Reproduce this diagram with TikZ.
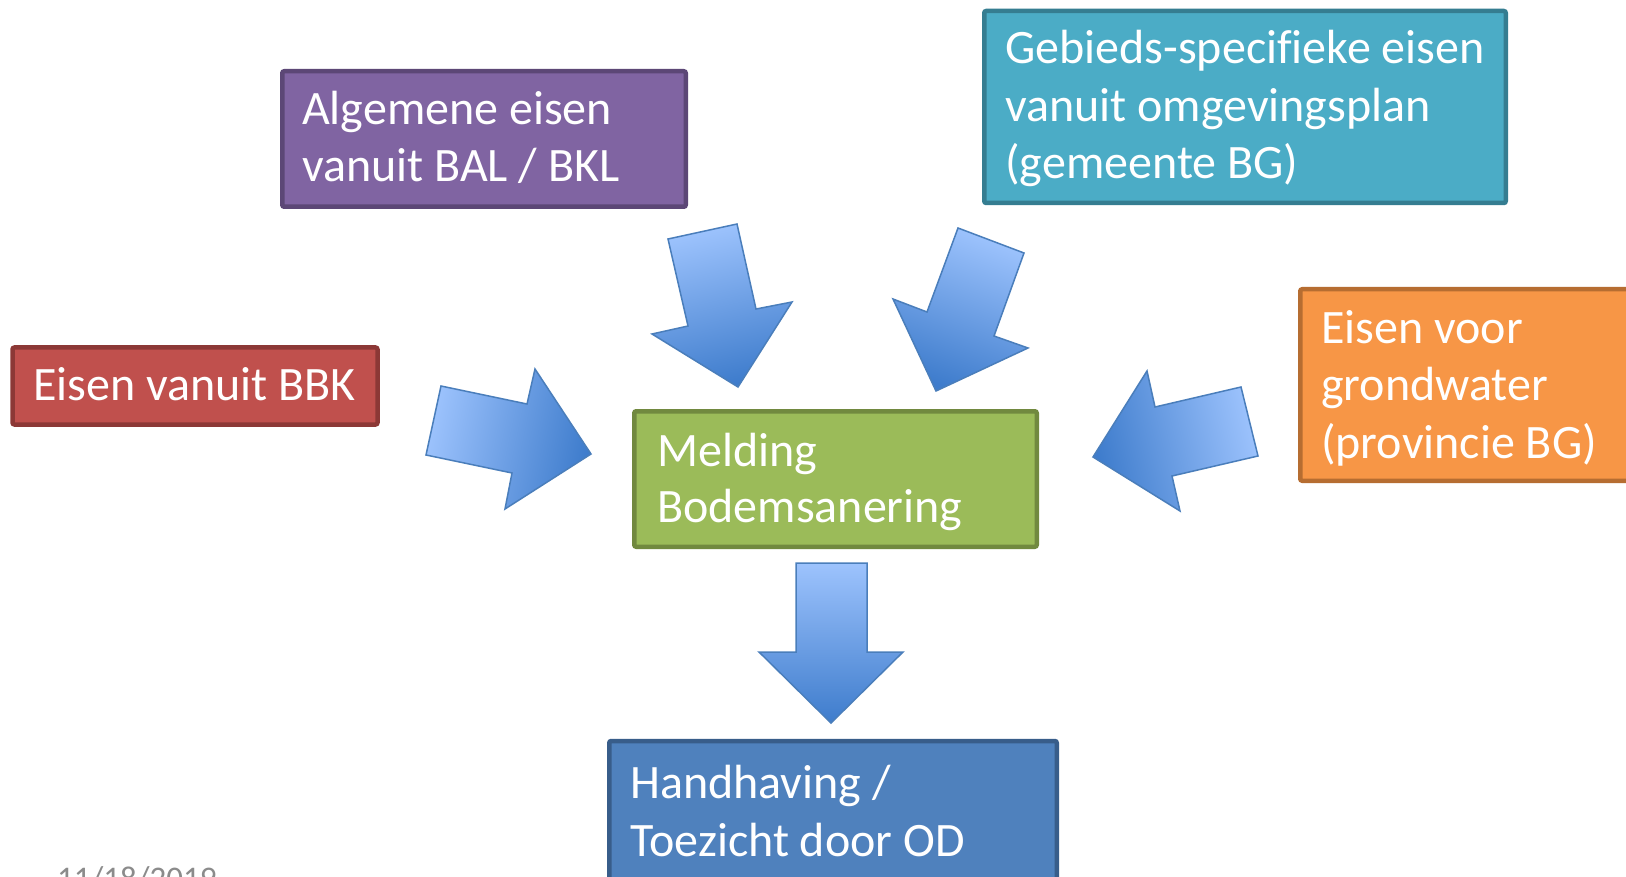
\documentclass[tikz,border=0pt]{standalone}
\usepackage{fontspec}
\setmainfont[Ligatures=NoCommon]{Carlito}
\definecolor{purpfill}{HTML}{8064A2}\definecolor{purpline}{HTML}{5C4776}
\definecolor{tealfill}{HTML}{4BACC6}\definecolor{tealline}{HTML}{357D91}
\definecolor{redfill}{HTML}{C0504D}\definecolor{redline}{HTML}{8C3836}
\definecolor{orgfill}{HTML}{F79646}\definecolor{orgline}{HTML}{B66D31}
\definecolor{grnfill}{HTML}{9BBB59}\definecolor{grnline}{HTML}{71893F}
\definecolor{blufill}{HTML}{4F81BD}\definecolor{bluline}{HTML}{385D8A}
\definecolor{arrlight}{HTML}{9DC3FD}\definecolor{arrdark}{HTML}{3E7CCC}
\definecolor{arrline}{HTML}{4A7EBB}\definecolor{dategrey}{HTML}{8B8B8B}
\begin{document}
\begin{tikzpicture}[x=1pt,y=-1pt,
  box/.style={rectangle, line width=4.5pt, rounded corners=2pt, inner sep=0pt, outer sep=0pt},
  lbl/.style={anchor=base west, inner sep=0pt, text=white, font=\fontsize{48}{57}\selectfont},
  blockarrow/.style={draw=arrline, line width=1.5pt, line join=miter, top color=arrlight, bottom color=arrdark}]
\useasboundingbox (0,0) rectangle (1626,877);
\clip (0,0) rectangle (1626,877);
\fill[white] (0,0) rectangle (1626,877);

% boxes
\node[box, fill=purpfill, draw=purpline, minimum width=403.5pt, minimum height=135.5pt] (bal) at (484,139) {};
\node[box, fill=redfill, draw=redline, minimum width=365pt, minimum height=77pt] (bbk) at (195,386) {};
\node[box, fill=tealfill, draw=tealline, minimum width=521.5pt, minimum height=192pt] (geb) at (1245,107) {};
\node[box, fill=orgfill, draw=orgline, minimum width=397.5pt, minimum height=191.5pt] (grw) at (1499,385) {};
\node[box, fill=grnfill, draw=grnline, minimum width=402.5pt, minimum height=135.5pt] (mel) at (835.5,479) {};
\node[box, fill=blufill, draw=bluline, minimum width=447.5pt, minimum height=180pt] (hnd) at (833,831) {};

% texts
\node[lbl] (bal1) at (302,125) {Algemene eisen};
\node[lbl] (bal2) at (302,182) {vanuit BAL / BKL};
\node[lbl] (bbk1) at (33,400) {Eisen vanuit BBK};
\node[lbl] (geb1) at (1005,64) {Gebieds-specifieke eisen};
\node[lbl] (geb2) at (1005,121.5) {vanuit omgevingsplan};
\node[lbl] (geb3) at (1005,179) {(gemeente BG)};
\node[lbl] (grw1) at (1321,344) {Eisen voor};
\node[lbl] (grw2) at (1321,401) {grondwater};
\node[lbl] (grw3) at (1321,458) {(provincie BG)};
\node[lbl] (mel1) at (657,466) {Melding};
\node[lbl] (mel2) at (657,522) {Bodemsanering};
\node[lbl] (hnd1) at (630,798) {Handhaving /};
\node[lbl] (hnd2) at (630,856) {Toezicht door OD};
\node[anchor=base west, inner sep=0pt, text=dategrey, font=\fontsize{33}{40}\selectfont] (date) at (57,889) {11/18/2019};

% block arrows
\shadedraw[blockarrow, shading angle=78]
  (441,386) -- (527,404) -- (535,369) -- (591,454) -- (505,509) -- (512,473) -- (426,455) -- cycle;
\shadedraw[blockarrow, shading angle=13]
  (668,239) -- (737,224) -- (756,309) -- (792,302) -- (738,387) -- (652,334) -- (688,326) -- cycle;
\shadedraw[blockarrow, shading angle=-20]
  (958,228) -- (1024,253) -- (994,336) -- (1028,348) -- (936,391) -- (893,299) -- (927,312) -- cycle;
\shadedraw[blockarrow, shading angle=-77]
  (1241,387) -- (1258,456) -- (1172,476) -- (1180,511) -- (1093,457) -- (1147,371) -- (1155,407) -- cycle;
\shadedraw[blockarrow]
  (796,563) -- (867,563) -- (867,652) -- (903,652) -- (831,723) -- (759,652) -- (796,652) -- cycle;
\end{tikzpicture}
\end{document}
